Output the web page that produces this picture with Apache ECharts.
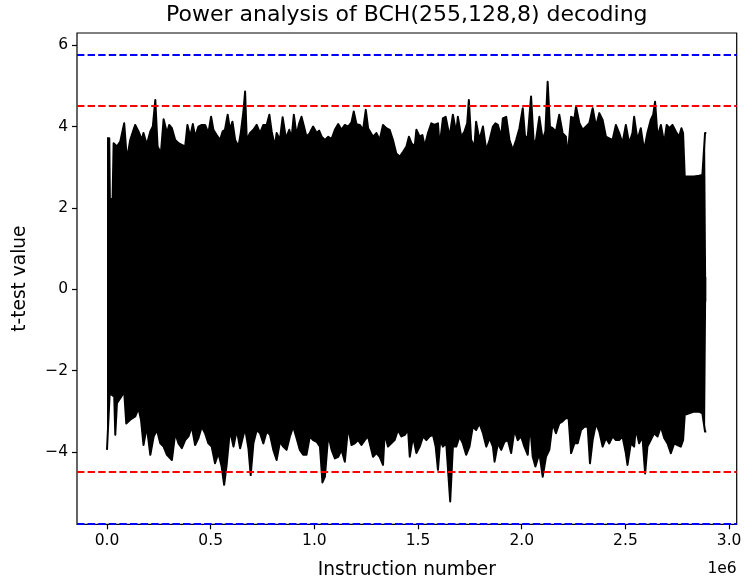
<!DOCTYPE html>
<html>
<head>
<meta charset="utf-8">
<script src="https://cdn.jsdelivr.net/npm/echarts@6/dist/echarts.min.js"></script>
<style>
  html, body { margin: 0; padding: 0; background: #ffffff; }
  #chart { width: 747px; height: 586px; }
</style>
</head>
<body>
<div id="chart"></div>
<script>
// Instruction positions are given in millions of instructions (axis offset "1e6").
const MILLION = 1e6;

// Upper envelope of the t-test trace: [instruction (1e6), t-value]
const upperEnvelope = [
  [0.000, 3.71], [0.011, 3.71], [0.014, 2.22], [0.027, 2.22], [0.032, 3.59],
  [0.048, 3.51], [0.064, 3.63], [0.083, 4.08], [0.096, 3.18], [0.112, 3.67],
  [0.128, 3.92], [0.136, 4.04], [0.152, 3.88], [0.168, 3.67], [0.176, 3.84],
  [0.192, 3.55], [0.209, 3.88], [0.221, 4.00], [0.233, 4.65], [0.244, 3.51],
  [0.260, 3.34], [0.273, 4.18], [0.289, 3.84], [0.300, 4.04], [0.313, 3.96],
  [0.329, 3.67], [0.345, 3.59], [0.361, 3.55], [0.377, 3.51], [0.388, 4.04],
  [0.401, 3.75], [0.414, 4.06], [0.425, 3.75], [0.441, 4.00], [0.457, 4.04],
  [0.473, 4.04], [0.489, 3.84], [0.502, 4.24], [0.513, 3.92], [0.529, 3.79],
  [0.545, 3.67], [0.558, 3.88], [0.569, 3.92], [0.582, 4.29], [0.593, 3.92],
  [0.605, 4.12], [0.618, 3.67], [0.634, 3.51], [0.645, 3.84], [0.658, 4.37],
  [0.666, 4.86], [0.674, 3.67], [0.690, 3.84], [0.706, 3.92], [0.722, 4.04],
  [0.738, 3.84], [0.754, 4.04], [0.770, 4.04], [0.783, 4.29], [0.794, 3.88],
  [0.810, 3.51], [0.818, 3.84], [0.834, 3.67], [0.847, 4.23], [0.863, 3.71],
  [0.879, 3.92], [0.890, 3.71], [0.901, 4.29], [0.914, 3.79], [0.927, 4.08],
  [0.938, 4.24], [0.950, 4.00], [0.962, 3.75], [0.978, 3.84], [0.994, 4.00],
  [1.011, 3.84], [1.023, 3.90], [1.035, 3.75], [1.051, 3.67], [1.067, 3.75],
  [1.083, 3.69], [1.099, 3.92], [1.115, 4.06], [1.131, 3.92], [1.147, 4.04],
  [1.163, 4.00], [1.179, 4.10], [1.190, 4.37], [1.203, 4.06], [1.219, 4.04],
  [1.235, 3.92], [1.248, 4.41], [1.259, 3.96], [1.283, 3.75], [1.299, 3.84],
  [1.315, 3.67], [1.331, 4.04], [1.347, 3.96], [1.363, 3.92], [1.379, 3.67],
  [1.395, 3.34], [1.412, 3.26], [1.428, 3.38], [1.444, 3.51], [1.456, 3.75],
  [1.468, 3.59], [1.484, 3.51], [1.492, 3.92], [1.508, 3.75], [1.521, 3.79],
  [1.532, 3.51], [1.548, 3.84], [1.564, 4.08], [1.580, 4.04], [1.596, 4.08],
  [1.604, 3.51], [1.620, 4.20], [1.633, 4.24], [1.652, 3.75], [1.668, 4.29],
  [1.684, 3.84], [1.692, 4.24], [1.708, 3.75], [1.724, 3.88], [1.737, 4.08],
  [1.745, 4.65], [1.756, 3.67], [1.772, 3.51], [1.780, 4.12], [1.796, 3.67],
  [1.813, 4.00], [1.829, 3.42], [1.845, 3.67], [1.861, 4.00], [1.873, 4.08],
  [1.885, 4.04], [1.901, 3.75], [1.909, 4.20], [1.925, 4.24], [1.941, 3.67],
  [1.957, 3.42], [1.973, 3.67], [1.989, 3.96], [2.005, 4.45], [2.016, 3.75],
  [2.029, 3.75], [2.045, 4.74], [2.058, 3.59], [2.069, 3.67], [2.085, 4.24],
  [2.101, 3.67], [2.114, 3.88], [2.125, 5.10], [2.136, 4.00], [2.149, 3.96],
  [2.165, 3.88], [2.181, 4.29], [2.197, 3.84], [2.213, 3.75], [2.221, 3.26],
  [2.238, 4.24], [2.254, 4.20], [2.262, 4.49], [2.278, 4.08], [2.294, 3.92],
  [2.310, 4.00], [2.326, 4.08], [2.342, 4.45], [2.358, 4.00], [2.374, 4.33],
  [2.390, 4.16], [2.406, 3.75], [2.422, 3.71], [2.438, 3.67], [2.454, 4.04],
  [2.470, 3.84], [2.486, 3.59], [2.502, 4.04], [2.518, 3.59], [2.534, 3.84],
  [2.542, 4.24], [2.558, 3.67], [2.574, 3.96], [2.590, 3.42], [2.606, 3.84],
  [2.622, 4.16], [2.634, 4.29], [2.643, 4.61], [2.655, 3.75], [2.671, 4.04],
  [2.687, 3.59], [2.699, 4.04], [2.711, 3.96], [2.727, 4.04], [2.743, 3.88],
  [2.759, 3.75], [2.770, 3.96], [2.778, 3.84], [2.786, 2.77], [2.807, 2.77],
  [2.831, 2.77], [2.855, 2.79], [2.871, 2.81], [2.879, 2.81], [2.884, 3.84],
  [2.890, 3.84]
];

// Lower envelope of the t-test trace: [instruction (1e6), t-value]
const lowerEnvelope = [
  [0.000, -3.95], [0.006, -3.95], [0.013, -2.56], [0.024, -2.60], [0.035, -2.64],
  [0.040, -3.58], [0.048, -2.80], [0.064, -2.68], [0.083, -2.52], [0.093, -3.30],
  [0.112, -3.21], [0.136, -3.13], [0.152, -2.93], [0.164, -3.21], [0.176, -3.83],
  [0.192, -3.38], [0.209, -4.07], [0.225, -3.62], [0.241, -3.46], [0.257, -3.79],
  [0.273, -3.87], [0.289, -4.07], [0.313, -4.20], [0.329, -3.54], [0.345, -3.79],
  [0.361, -3.91], [0.377, -3.71], [0.393, -3.62], [0.409, -3.38], [0.425, -3.83],
  [0.441, -3.66], [0.457, -3.38], [0.473, -3.54], [0.489, -3.79], [0.505, -3.87],
  [0.521, -4.28], [0.537, -4.03], [0.553, -4.36], [0.565, -4.81], [0.577, -4.32],
  [0.593, -3.46], [0.610, -3.87], [0.626, -3.46], [0.642, -3.91], [0.666, -3.42],
  [0.682, -3.91], [0.693, -4.57], [0.706, -3.79], [0.722, -3.46], [0.738, -3.54],
  [0.754, -3.79], [0.770, -3.50], [0.786, -3.58], [0.802, -3.95], [0.818, -4.20],
  [0.834, -3.75], [0.850, -3.87], [0.866, -3.95], [0.882, -3.62], [0.898, -3.38],
  [0.914, -3.66], [0.930, -3.95], [0.946, -4.07], [0.962, -4.07], [0.978, -3.62],
  [0.994, -3.71], [1.011, -3.75], [1.027, -3.87], [1.039, -4.75], [1.051, -4.61],
  [1.067, -3.58], [1.083, -3.95], [1.099, -4.16], [1.115, -4.12], [1.131, -3.95],
  [1.147, -4.24], [1.163, -3.38], [1.179, -3.83], [1.195, -3.79], [1.211, -3.71],
  [1.227, -3.83], [1.243, -3.71], [1.259, -3.62], [1.283, -4.12], [1.299, -4.03],
  [1.315, -4.12], [1.331, -4.32], [1.339, -3.54], [1.355, -3.87], [1.371, -3.79],
  [1.387, -3.71], [1.403, -3.46], [1.420, -3.62], [1.436, -3.58], [1.452, -3.46],
  [1.460, -4.12], [1.476, -3.62], [1.492, -4.03], [1.508, -3.87], [1.524, -3.62],
  [1.540, -3.71], [1.556, -3.62], [1.572, -3.58], [1.585, -3.87], [1.596, -4.44],
  [1.607, -3.71], [1.620, -3.87], [1.636, -3.79], [1.655, -5.22], [1.668, -3.87],
  [1.684, -3.87], [1.700, -3.62], [1.716, -3.79], [1.732, -4.07], [1.748, -3.87],
  [1.764, -3.38], [1.780, -3.46], [1.796, -3.30], [1.813, -3.54], [1.829, -3.87],
  [1.845, -3.66], [1.861, -3.87], [1.869, -4.24], [1.885, -3.79], [1.901, -3.95],
  [1.917, -3.75], [1.933, -3.71], [1.949, -4.03], [1.965, -3.46], [1.981, -3.71],
  [1.997, -3.62], [2.013, -3.87], [2.029, -4.07], [2.040, -3.30], [2.053, -4.12],
  [2.066, -4.36], [2.085, -4.03], [2.101, -4.61], [2.117, -4.12], [2.133, -3.95],
  [2.149, -3.30], [2.165, -3.54], [2.181, -3.30], [2.197, -3.25], [2.213, -3.17],
  [2.226, -3.17], [2.238, -4.03], [2.254, -3.79], [2.270, -3.79], [2.286, -3.46],
  [2.302, -3.38], [2.318, -3.38], [2.329, -4.28], [2.342, -3.71], [2.358, -3.30],
  [2.374, -3.50], [2.390, -3.87], [2.406, -3.66], [2.422, -3.79], [2.438, -3.62],
  [2.454, -3.71], [2.470, -3.71], [2.486, -3.62], [2.502, -4.03], [2.510, -4.32],
  [2.526, -3.79], [2.542, -3.87], [2.550, -3.42], [2.566, -3.79], [2.582, -3.62],
  [2.595, -4.53], [2.606, -3.87], [2.622, -3.71], [2.638, -3.54], [2.655, -3.62],
  [2.671, -3.38], [2.687, -3.66], [2.703, -3.79], [2.719, -4.03], [2.735, -3.79],
  [2.751, -3.83], [2.767, -3.87], [2.778, -3.71], [2.786, -3.09], [2.807, -3.05],
  [2.831, -3.01], [2.855, -3.01], [2.871, -3.05], [2.884, -3.50], [2.890, -3.50]
];

// Significance thresholds (drawn at + and -)
const strictThreshold = 5.76;
const tvlaThreshold = 4.5;

// Axis ranges and ticks
const xRangeE6 = [-0.1446, 3.0366];
const yRange = [-5.78, 6.30];
const xTicksE6 = [0.0, 0.5, 1.0, 1.5, 2.0, 2.5, 3.0];
const yTicks = [-4, -2, 0, 2, 4, 6];

const FONT = "'DejaVu Sans', 'Liberation Sans', sans-serif";

const toInstr = pts => pts.map(p => [p[0] * MILLION, p[1]]);
const minusSign = v => (v < 0 ? '\u2212' + Math.abs(v) : String(v));

const thresholdLine = (value, color) => ({
  yAxis: value,
  lineStyle: { color: color, width: 2, type: [7.4, 3.2] }
});

const chart = echarts.init(document.getElementById('chart'), null, {
  renderer: 'canvas', devicePixelRatio: 1
});

chart.setOption({
  animation: false,
  backgroundColor: '#ffffff',
  grid: {
    left: 77, top: 33, right: 10.3, bottom: 61.7,
    containLabel: false, outerBoundsMode: 'none',
    show: true, borderColor: '#000000', borderWidth: 1.2, backgroundColor: 'transparent'
  },
  xAxis: {
    type: 'value',
    position: 'bottom',
    min: xRangeE6[0] * MILLION,
    max: xRangeE6[1] * MILLION,
    splitLine: { show: false },
    axisLine: { show: false, onZero: false },
    axisTick: {
      show: true, inside: false, length: 5,
      lineStyle: { color: '#000000', width: 1.2 },
      customValues: xTicksE6.map(v => v * MILLION)
    },
    axisLabel: {
      show: true, margin: 9, color: '#000000',
      fontFamily: FONT, fontSize: 15.5,
      customValues: xTicksE6.map(v => v * MILLION),
      formatter: v => (v / MILLION).toFixed(1)
    },
    name: 'Instruction number',
    nameLocation: 'middle',
    nameGap: 36,
    nameTextStyle: { color: '#000000', fontFamily: FONT, fontSize: 18.6 }
  },
  yAxis: {
    type: 'value',
    position: 'left',
    min: yRange[0],
    max: yRange[1],
    splitLine: { show: false },
    axisLine: { show: false, onZero: false },
    axisTick: {
      show: true, inside: false, length: 5,
      lineStyle: { color: '#000000', width: 1.2 },
      customValues: yTicks
    },
    axisLabel: {
      show: true, margin: 9, color: '#000000',
      fontFamily: FONT, fontSize: 15.5,
      customValues: yTicks,
      formatter: v => minusSign(v)
    },
    name: 't-test value',
    nameLocation: 'middle',
    nameGap: 47,
    nameTextStyle: { color: '#000000', fontFamily: FONT, fontSize: 18.6 }
  },
  graphic: [
    {
      type: 'text',
      style: {
        text: 'Power analysis of BCH(255,128,8) decoding',
        x: 406.8, y: 15.5,
        align: 'center', verticalAlign: 'middle',
        textAlign: 'center', textVerticalAlign: 'middle',
        font: "22px 'DejaVu Sans', sans-serif",
        fill: '#000000'
      }
    },
    {
      type: 'text',
      style: {
        text: '1e6',
        x: 736.7, y: 569,
        align: 'right', verticalAlign: 'middle',
        textAlign: 'right', textVerticalAlign: 'middle',
        font: "15.5px 'DejaVu Sans', sans-serif",
        fill: '#000000'
      }
    }
  ],
  series: [
    {
      name: 'upper',
      type: 'line',
      data: toInstr(upperEnvelope),
      showSymbol: false,
      symbol: 'none',
      smooth: false,
      lineStyle: { color: '#000000', width: 2, join: 'round' },
      // filled a little past zero so the two halves overlap without a seam
      areaStyle: { color: '#000000', opacity: 1, origin: -0.3 },
      z: 2
    },
    {
      name: 'lower',
      type: 'line',
      data: toInstr(lowerEnvelope),
      showSymbol: false,
      symbol: 'none',
      smooth: false,
      lineStyle: { color: '#000000', width: 2, join: 'round' },
      areaStyle: { color: '#000000', opacity: 1, origin: 0.3 },
      z: 2
    },
    {
      name: 'thresholds',
      type: 'line',
      data: [],
      z: 3,
      markLine: {
        silent: true,
        symbol: 'none',
        label: { show: false },
        animation: false,
        data: [
          thresholdLine(strictThreshold, '#0000ff'),
          thresholdLine(-strictThreshold, '#0000ff'),
          thresholdLine(tvlaThreshold, '#ff0000'),
          thresholdLine(-tvlaThreshold, '#ff0000')
        ]
      }
    }
  ]
});
</script>
</body>
</html>
